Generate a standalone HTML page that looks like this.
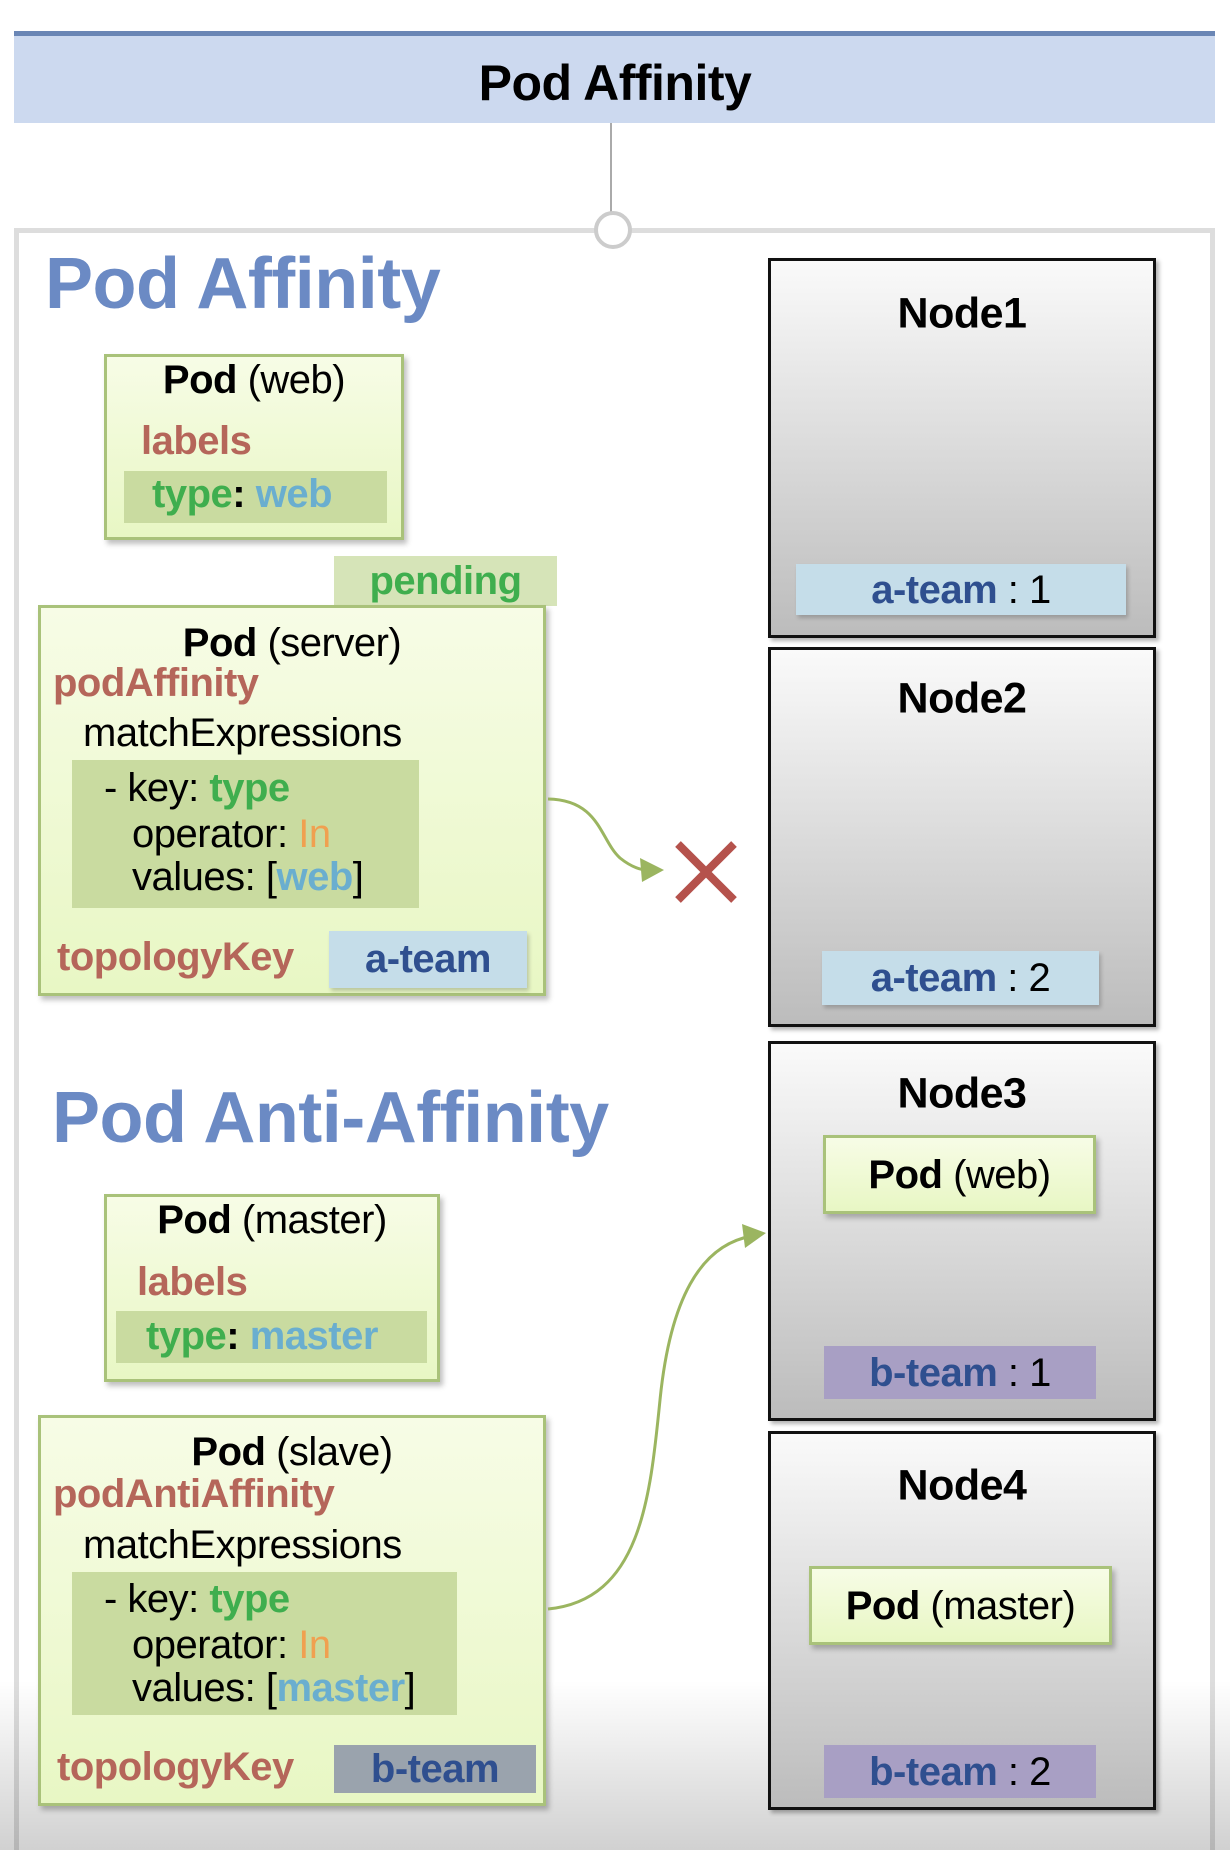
<!DOCTYPE html>
<html><head><meta charset="utf-8"><style>
*{margin:0;padding:0;box-sizing:border-box}
html,body{width:1230px;height:1850px;background:#fff;overflow:hidden}
body{position:relative;font-family:"Liberation Sans","Noto Sans CJK KR",sans-serif}
.a{position:absolute;white-space:nowrap}
.t{position:absolute;white-space:nowrap;line-height:1;transform:translateY(-50%);font-size:40px;letter-spacing:-0.5px}
.b{font-weight:bold}
.pod{position:absolute;background:linear-gradient(#f7fce6,#e8f7c4);border:3px solid #a9c27a;box-shadow:3px 4px 5px rgba(0,0,0,.25)}
.band{position:absolute;background:#c9dba0}
.node{position:absolute;left:768px;width:388px;border:3px solid #111;background:linear-gradient(#fafafa,#bcbcbc);box-shadow:3px 3px 4px rgba(0,0,0,.3)}
.red{color:#b5665a;font-weight:bold}.grn{color:#3fae4e;font-weight:bold}.cy{color:#6aaecf;font-weight:bold}.or{color:#f0a050}
.nb{font-weight:bold;font-size:43px}
</style></head><body>
<div class="a" style="left:14px;top:31px;width:1201px;height:92px;background:#ccd9ef;border-top:5px solid #6a86b5"></div>
<div class="t b" style="left:0;width:1230px;text-align:center;top:83px;font-size:50px">Pod Affinity</div>
<div class="a" style="left:610px;top:123px;width:2px;height:92px;background:#aaa"></div>
<div class="a" style="left:14px;top:228px;width:1201px;height:1700px;border:5px solid #ddd;border-bottom:none"></div>
<div class="a" style="left:594px;top:211px;width:38px;height:38px;border-radius:50%;border:4px solid #ccc;background:#fff"></div>
<div class="a" style="left:0;top:1680px;width:1230px;height:260px;background:linear-gradient(rgba(0,0,0,0),rgba(0,0,0,.18) 65%,rgba(0,0,0,.2))"></div>

<div class="t b" style="left:45px;top:284px;font-size:72px;color:#6b8ac4">Pod Affinity</div>

<div class="pod" style="left:104px;top:354px;width:300px;height:186px"></div>
<div class="band" style="left:124px;top:471px;width:263px;height:52px"></div>
<div class="t" style="left:104px;width:300px;text-align:center;top:380px"><b>Pod</b> (web)</div>
<div class="t red" style="left:141px;top:441px">labels</div>
<div class="t" style="left:152px;top:494px"><span class="grn">type</span><b>:</b> <span class="cy">web</span></div>

<div class="a" style="left:334px;top:556px;width:223px;height:50px;background:#d6e4b8"></div>
<div class="t grn" style="left:334px;width:223px;text-align:center;top:581px">pending</div>

<div class="pod" style="left:38px;top:605px;width:508px;height:391px"></div>
<div class="band" style="left:72px;top:760px;width:347px;height:148px"></div>
<div class="t" style="left:92px;width:400px;text-align:center;top:643px"><b>Pod</b> (server)</div>
<div class="t red" style="left:53px;top:683px">podAffinity</div>
<div class="t" style="left:83px;top:733px">matchExpressions</div>
<div class="t" style="left:104px;top:788px">- key: <span class="grn">type</span></div>
<div class="t" style="left:132px;top:834px">operator: <span class="or">In</span></div>
<div class="t" style="left:132px;top:877px">values: [<span class="cy">web</span>]</div>
<div class="t red" style="left:57px;top:957px">topologyKey</div>
<div class="a" style="left:329px;top:931px;width:198px;height:57px;background:#c5dde9;box-shadow:2px 3px 4px rgba(0,0,0,.2)"></div>
<div class="t b" style="left:329px;width:198px;text-align:center;top:959px;color:#2f4f8f">a-team</div>

<div class="t b" style="left:52px;top:1118px;font-size:72px;color:#6b8ac4">Pod Anti-Affinity</div>

<div class="pod" style="left:104px;top:1194px;width:336px;height:188px"></div>
<div class="band" style="left:116px;top:1311px;width:311px;height:52px"></div>
<div class="t" style="left:104px;width:336px;text-align:center;top:1220px"><b>Pod</b> (master)</div>
<div class="t red" style="left:137px;top:1282px">labels</div>
<div class="t" style="left:146px;top:1336px"><span class="grn">type</span><b>:</b> <span class="cy">master</span></div>

<div class="pod" style="left:38px;top:1415px;width:508px;height:391px"></div>
<div class="band" style="left:72px;top:1572px;width:385px;height:143px"></div>
<div class="t" style="left:92px;width:400px;text-align:center;top:1452px"><b>Pod</b> (slave)</div>
<div class="t red" style="left:53px;top:1494px">podAntiAffinity</div>
<div class="t" style="left:83px;top:1545px">matchExpressions</div>
<div class="t" style="left:104px;top:1599px">- key: <span class="grn">type</span></div>
<div class="t" style="left:132px;top:1645px">operator: <span class="or">In</span></div>
<div class="t" style="left:132px;top:1688px">values: [<span class="cy">master</span>]</div>
<div class="t red" style="left:57px;top:1767px">topologyKey</div>
<div class="a" style="left:334px;top:1745px;width:202px;height:48px;background:#9aa3ad"></div>
<div class="t b" style="left:334px;width:202px;text-align:center;top:1769px;color:#2f4f8f">b-team</div>

<div class="node" style="top:258px;height:380px"></div>
<div class="t nb" style="left:768px;width:388px;text-align:center;top:314px">Node1</div>
<div class="a" style="left:796px;top:564px;width:330px;height:51px;background:#c5dde9;box-shadow:2px 3px 4px rgba(0,0,0,.2)"></div>
<div class="t" style="left:796px;width:330px;text-align:center;top:590px"><b style="color:#2f4f8f">a-team</b> : 1</div>

<div class="node" style="top:647px;height:380px"></div>
<div class="t nb" style="left:768px;width:388px;text-align:center;top:699px">Node2</div>
<div class="a" style="left:822px;top:951px;width:277px;height:54px;background:#c5dde9;box-shadow:2px 3px 4px rgba(0,0,0,.2)"></div>
<div class="t" style="left:822px;width:277px;text-align:center;top:978px"><b style="color:#2f4f8f">a-team</b> : 2</div>

<div class="node" style="top:1041px;height:380px"></div>
<div class="t nb" style="left:768px;width:388px;text-align:center;top:1094px">Node3</div>
<div class="pod" style="left:823px;top:1135px;width:273px;height:79px"></div>
<div class="t" style="left:823px;width:273px;text-align:center;top:1175px"><b>Pod</b> (web)</div>
<div class="a" style="left:824px;top:1346px;width:272px;height:53px;background:#a89fc4"></div>
<div class="t" style="left:824px;width:272px;text-align:center;top:1373px"><b style="color:#2f4f8f">b-team</b> : 1</div>

<div class="node" style="top:1431px;height:379px"></div>
<div class="t nb" style="left:768px;width:388px;text-align:center;top:1486px">Node4</div>
<div class="pod" style="left:809px;top:1566px;width:303px;height:79px"></div>
<div class="t" style="left:809px;width:303px;text-align:center;top:1606px"><b>Pod</b> (master)</div>
<div class="a" style="left:824px;top:1745px;width:272px;height:53px;background:#a89fc4"></div>
<div class="t" style="left:824px;width:272px;text-align:center;top:1772px"><b style="color:#2f4f8f">b-team</b> : 2</div>

<svg class="a" style="left:0;top:0" width="1230" height="1850">
<path d="M548 799 C600 800 600 840 620 858 C630 866 640 870 648 870" fill="none" stroke="#9bb560" stroke-width="3"/>
<polygon points="664,870 640,858 642,882" fill="#9bb560"/>
<path d="M678 844 L734 900 M734 844 L678 900" stroke="#b5524c" stroke-width="8"/>
<path d="M548 1609 C640 1600 650 1500 660 1400 C670 1300 700 1245 752 1236" fill="none" stroke="#9bb560" stroke-width="3"/>
<polygon points="766,1233 742,1224 745,1248" fill="#9bb560"/>
</svg>
</body></html>
